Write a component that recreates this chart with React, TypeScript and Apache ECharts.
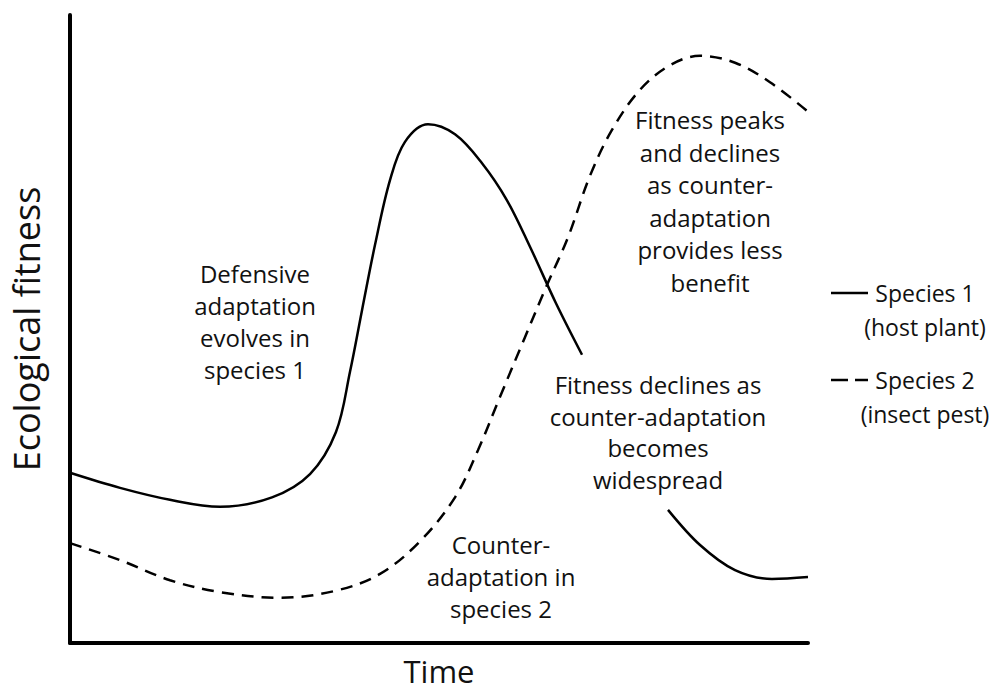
import React, { useEffect, useRef } from "react";
import * as echarts from "echarts";

// Species 1 (host plant): [time, fitness]; null marks the gap under the annotation
const species1X: (number | null)[] = [0, 6.78, 13.55, 20.33, 27.37, 32.52, 36.04, 37.94, 39.57, 41.33, 43.36, 45.39, 48.51, 52.17, 55.83, 59.21, 62.33, 65.85, 69.38, null, 81.03, 85.37, 90.11, 95.12, 100];
const species1Y: (number | null)[] = [27.1, 24.7, 22.8, 21.7, 23.2, 26.9, 33.6, 43.2, 53.0, 63.4, 73.7, 79.8, 82.6, 81.0, 76.4, 70.5, 63.1, 54.1, 45.9, null, 21.2, 15.6, 11.6, 10.2, 10.5];

// Species 2 (insect pest)
const species2X: number[] = [0, 6.78, 13.55, 20.33, 28.46, 35.91, 42.01, 47.43, 52.17, 55.28, 58.27, 61.65, 64.63, 67.48, 70.46, 73.44, 77.24, 81.3, 85.37, 90.11, 94.85, 100];
const species2Y: number[] = [15.9, 13.2, 10.0, 8.1, 7.2, 8.3, 11.0, 16.2, 23.2, 30.7, 39.2, 48.7, 57.0, 64.6, 74.4, 81.7, 88.1, 92.0, 93.5, 92.4, 89.3, 84.6];

const seriesNames = ["Species 1\n(host plant)", "Species 2\n(insect pest)"];
const annotations = [
  "Defensive\nadaptation\nevolves in\nspecies 1",
  "Counter-\nadaptation in\nspecies 2",
  "Fitness peaks\nand declines\nas counter-\nadaptation\nprovides less\nbenefit",
  "Fitness declines as\ncounter-adaptation\nbecomes\nwidespread",
];
const xTitle = "Time";
const yTitle = "Ecological fitness";

const FONT = "'Open Sans', 'Noto Sans', sans-serif";

export default function App() {
  const ref = useRef<HTMLDivElement>(null);
  useEffect(() => {
    if (!ref.current) return;
    const chart = echarts.init(ref.current, undefined, { renderer: "svg" });
    const s1 = species1X.map((x, i) => (x === null ? [null, null] : [x, species1Y[i]]));
    const s2 = species2X.map((x, i) => [x, species2Y[i]]);
    const textStyle = (t: string, lh: number, size = 24) => ({
      text: t,
      fill: "#111",
      fontFamily: FONT,
      fontSize: size,
      lineHeight: lh,
      align: "center",
      verticalAlign: "middle",
    });
    chart.setOption({
      animation: false,
      backgroundColor: "#ffffff",
      grid: {
        left: 70,
        top: 15,
        width: 738,
        height: 628,
        containLabel: false,
        outerBoundsMode: "none",
      },
      xAxis: {
        type: "value",
        min: 0,
        max: 100,
        name: xTitle,
        nameLocation: "middle",
        nameGap: 11,
        nameTextStyle: { fontFamily: FONT, fontSize: 31, lineHeight: 34, color: "#111" },
        axisLine: { show: true, onZero: false, lineStyle: { color: "#000", width: 4 } },
        axisTick: { show: false },
        axisLabel: { show: false },
        splitLine: { show: false },
      },
      yAxis: {
        type: "value",
        min: 0,
        max: 100,
        name: yTitle,
        nameLocation: "middle",
        nameGap: 26,
        nameTextStyle: { fontFamily: FONT, fontSize: 36, color: "#111" },
        axisLine: { show: true, onZero: false, lineStyle: { color: "#000", width: 4 } },
        axisTick: { show: false },
        axisLabel: { show: false },
        splitLine: { show: false },
      },
      series: [
        {
          name: seriesNames[0],
          type: "line",
          data: s1,
          smooth: 0.35,
          connectNulls: false,
          showSymbol: false,
          symbol: "none",
          lineStyle: { color: "#000", width: 2.5, type: "solid" },
        },
        {
          name: seriesNames[1],
          type: "line",
          data: s2,
          smooth: 0.35,
          showSymbol: false,
          symbol: "none",
          lineStyle: { color: "#000", width: 2.5, type: [12, 8] },
        },
      ],
      graphic: [
        { type: "text", x: 255, y: 321, style: textStyle(annotations[0], 32) },
        { type: "text", x: 501, y: 576, style: textStyle(annotations[1], 32) },
        { type: "text", x: 710, y: 201, style: textStyle(annotations[2], 32.5) },
        { type: "text", x: 658, y: 432, style: textStyle(annotations[3], 31.5) },
        { type: "line", shape: { x1: 831, y1: 293, x2: 868, y2: 293 }, style: { stroke: "#000", lineWidth: 2.5 } },
        { type: "text", x: 925, y: 310, style: textStyle(seriesNames[0], 34, 23) },
        { type: "line", shape: { x1: 831, y1: 380, x2: 848, y2: 380 }, style: { stroke: "#000", lineWidth: 2.5 } },
        { type: "line", shape: { x1: 855, y1: 380, x2: 868, y2: 380 }, style: { stroke: "#000", lineWidth: 2.5 } },
        { type: "text", x: 925, y: 397, style: textStyle(seriesNames[1], 34, 23) },
      ],
    });
    return () => chart.dispose();
  }, []);
  return <div ref={ref} style={{ position: "absolute", left: 0, top: 0, width: 998, height: 692 }} />;
}
